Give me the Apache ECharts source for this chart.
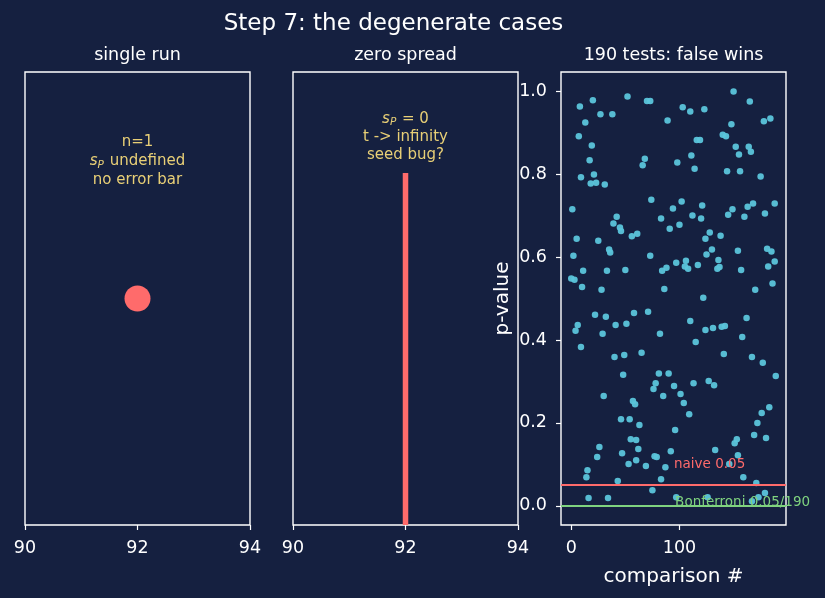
<!DOCTYPE html>
<html><head><meta charset="utf-8">
<script src="https://cdn.jsdelivr.net/npm/echarts@6/dist/echarts.min.js"></script>
<style>html,body{margin:0;padding:0;background:#152040;}#c{width:825px;height:598px;}</style>
</head><body><div id="c"></div>
<script>
const suptitle = 'Step 7: the degenerate cases';
const panelTitles = ['single run', 'zero spread', '190 tests: false wins'];
const runXTicks = [90, 92, 94];
const singleRun = [[92, 0]];
const zeroSpreadLine = [[92, 0], [92, 0.777]];
const pTicks = [0, 0.2, 0.4, 0.6, 0.8, 1.0];
const idxTicks = [0, 100];
const naiveAlpha = 0.05;
const bonferroniAlpha = 0.05 / 190;
const comparisonIdx = [52,20,8,27,38,13,7,19,17,21,9,18,23,31,1,42,39,45,70,73,103,110,123,89,116,119,68,66,98,111,114,74,102,121,94,83,112,120,100,91,
150,165,148,178,184,140,143,152,164,155,166,144,156,175,149,145,163,168,188,160,179,
46,56,61,5,25,35,36,2,11,33,50,0,3,10,28,22,32,58,6,4,41,51,29,9,40,49,48,
128,124,73,84,88,97,106,105,108,117,130,125,86,122,71,110,131,124,82,115,65,81,90,
138,154,181,185,136,135,137,157,182,188,186,170,162,139,142,158,141,167,177,189,
30,57,59,46,54,63,55,60,26,24,47,62,53,60,15,14,43,16,34,
78,76,95,113,127,132,85,101,104,109,96,92,133,77,79,69,87,83,75,97,126,
183,176,172,169,180,153,151,154,146,159,171,179,173,167];
const pValues = [0.987,0.978,0.963,0.944,0.944,0.924,0.891,0.869,0.833,0.799,0.792,0.777,0.779,0.775,0.715,0.697,0.681,0.671,0.976,0.976,0.961,0.951,0.956,0.929,0.882,0.882,0.837,0.821,0.828,0.845,0.813,0.738,0.734,0.724,0.717,0.693,0.700,0.693,0.678,0.668,
0.999,0.975,0.920,0.927,0.934,0.895,0.891,0.866,0.866,0.847,0.854,0.807,0.807,0.794,0.715,0.702,0.721,0.729,0.729,0.697,0.705,
0.663,0.650,0.656,0.644,0.639,0.618,0.611,0.603,0.567,0.567,0.569,0.548,0.545,0.528,0.521,0.461,0.456,0.465,0.436,0.422,0.436,0.439,0.415,0.383,0.359,0.364,0.316,
0.659,0.644,0.603,0.567,0.574,0.586,0.591,0.577,0.572,0.581,0.618,0.606,0.523,0.502,0.468,0.446,0.429,0.424,0.415,0.395,0.369,0.319,0.319,
0.651,0.615,0.620,0.613,0.593,0.572,0.576,0.569,0.577,0.589,0.536,0.521,0.453,0.432,0.434,0.407,0.366,0.359,0.345,0.313,
0.265,0.253,0.245,0.209,0.209,0.195,0.161,0.159,0.142,0.118,0.127,0.137,0.101,0.110,0.086,0.069,0.060,0.019,0.019,
0.296,0.282,0.289,0.296,0.301,0.291,0.265,0.270,0.248,0.221,0.183,0.132,0.135,0.120,0.118,0.096,0.093,0.064,0.038,0.021,0.021,
0.238,0.224,0.200,0.171,0.164,0.161,0.151,0.122,0.101,0.069,0.055,0.031,0.021,0.011];

const BG = '#152040', FG = '#ffffff', YEL = '#e8cf76', RED = '#ff6b6b', CYAN = '#5bc5db', GREEN = '#7fd37f';
const FONT = 'DejaVu Sans';
const chart = echarts.init(document.getElementById('c'), null, {renderer: 'canvas'});

const grids = [
  {left: 25, top: 72, width: 225, height: 453},
  {left: 293, top: 72, width: 225, height: 453},
  {left: 561, top: 72, width: 225, height: 453}
].map(g => Object.assign(g, {show: true, borderColor: FG, borderWidth: 1.4, backgroundColor: 'transparent', containLabel: false}));

const tickLabel = {color: FG, fontFamily: FONT, fontSize: 17.5, margin: 14};
const tick = {show: true, length: 5, inside: false, lineStyle: {color: FG, width: 1.2}};
const noLine = {show: false, onZero: false};

function runXAxis(gi) {
  return {type: 'value', gridIndex: gi, min: runXTicks[0], max: runXTicks[runXTicks.length - 1], interval: 2,
    axisLine: noLine, splitLine: {show: false}, axisTick: tick,
    axisLabel: Object.assign({}, tickLabel)};
}
function hiddenY(gi, mn, mx) {
  return {type: 'value', gridIndex: gi, min: mn, max: mx, show: false, axisLine: noLine, splitLine: {show: false}};
}
const titleStyle = {color: FG, fontFamily: FONT, fontSize: 17.5, fontWeight: 'normal'};

const option = {
  backgroundColor: BG,
  animation: false,
  title: [
    {text: suptitle, left: 393.5, top: 13, padding: 0, textAlign: 'center', textStyle: {color: FG, fontFamily: FONT, fontSize: 23, fontWeight: 'normal'}},
    {text: panelTitles[0], left: 137.5, top: 46, padding: 0, textAlign: 'center', textStyle: titleStyle},
    {text: panelTitles[1], left: 405.5, top: 46, padding: 0, textAlign: 'center', textStyle: titleStyle},
    {text: panelTitles[2], left: 673.5, top: 46, padding: 0, textAlign: 'center', textStyle: titleStyle}
  ],
  grid: grids,
  xAxis: [
    runXAxis(0), runXAxis(1),
    {type: 'value', gridIndex: 2, min: -9.45, max: 198.45,
      name: 'comparison #', nameLocation: 'middle', nameGap: 42,
      nameTextStyle: {color: FG, fontFamily: FONT, fontSize: 20},
      axisLine: noLine, splitLine: {show: false},
      axisTick: Object.assign({customValues: idxTicks}, tick),
      axisLabel: Object.assign({customValues: idxTicks}, tickLabel)}
  ],
  yAxis: [
    hiddenY(0, -1, 1), hiddenY(1, 0, 1),
    {type: 'value', gridIndex: 2, min: -0.046, max: 1.046,
      name: 'p-value', nameLocation: 'middle', nameGap: 48, nameRotate: 90,
      nameTextStyle: {color: FG, fontFamily: FONT, fontSize: 20},
      axisLine: noLine, splitLine: {show: false},
      axisTick: Object.assign({customValues: pTicks}, tick),
      axisLabel: Object.assign({customValues: pTicks, formatter: v => v.toFixed(1)}, tickLabel, {margin: 14})}
  ],
  series: [
    {type: 'scatter', xAxisIndex: 0, yAxisIndex: 0, data: singleRun, symbolSize: 26,
      itemStyle: {color: RED, opacity: 1}, silent: true},
    {type: 'line', xAxisIndex: 1, yAxisIndex: 1, data: zeroSpreadLine, showSymbol: false, symbol: 'none',
      lineStyle: {color: RED, width: 5.5, cap: 'butt'}, silent: true},
    {type: 'scatter', xAxisIndex: 2, yAxisIndex: 2,
      data: comparisonIdx.map((x, i) => [x, pValues[i]]), symbolSize: 6.5,
      itemStyle: {color: CYAN, opacity: 0.95}, silent: true, z: 2,
      markLine: {silent: true, symbol: ['none', 'none'], label: {show: false}, animation: false,
        data: [
          {yAxis: naiveAlpha, lineStyle: {color: RED, width: 2, type: 'solid'}},
          {yAxis: bonferroniAlpha, lineStyle: {color: GREEN, width: 2, type: 'solid'}}
        ]},
      markPoint: {silent: true, symbol: 'circle', symbolSize: 0, animation: false,
        data: [
          {coord: [95, 0.099], label: {show: true, formatter: 'naive 0.05', position: 'right', distance: 0,
            color: RED, fontFamily: FONT, fontSize: 13.5}},
          {coord: [96, 0.009], label: {show: true, formatter: 'Bonferroni 0.05/190', position: 'right', distance: 0,
            color: GREEN, fontFamily: FONT, fontSize: 13.5}}
        ]}
    }
  ],
  graphic: [
    {type: 'text', x: 137.5, y: 161, silent: true, style: {
      text: 'n=1\n{i|s}{sub|P}{t| undefined}\nno error bar',
      align: 'center', verticalAlign: 'middle', fill: YEL, fontFamily: FONT, fontSize: 15, lineHeight: 19,
      rich: {i: {fontStyle: 'italic', fontSize: 15, fill: YEL, fontFamily: FONT, lineHeight: 19},
        sub: {fontStyle: 'italic', fontSize: 10.5, fill: YEL, fontFamily: FONT, verticalAlign: 'bottom', lineHeight: 19, padding: [0, 1, 0, 0]},
        t: {fontSize: 15, fill: YEL, fontFamily: FONT, lineHeight: 19}}}},
    {type: 'text', x: 405.5, y: 137, silent: true, style: {
      text: '{i|s}{sub|P}{t| = 0}\nt -> infinity\nseed bug?',
      align: 'center', verticalAlign: 'middle', fill: YEL, fontFamily: FONT, fontSize: 15, lineHeight: 18,
      rich: {i: {fontStyle: 'italic', fontSize: 15, fill: YEL, fontFamily: FONT, lineHeight: 18},
        sub: {fontStyle: 'italic', fontSize: 10.5, fill: YEL, fontFamily: FONT, verticalAlign: 'bottom', lineHeight: 18, padding: [0, 1, 0, 0]},
        t: {fontSize: 15, fill: YEL, fontFamily: FONT, lineHeight: 18}}}}
  ]
};
chart.setOption(option);
</script></body></html>
